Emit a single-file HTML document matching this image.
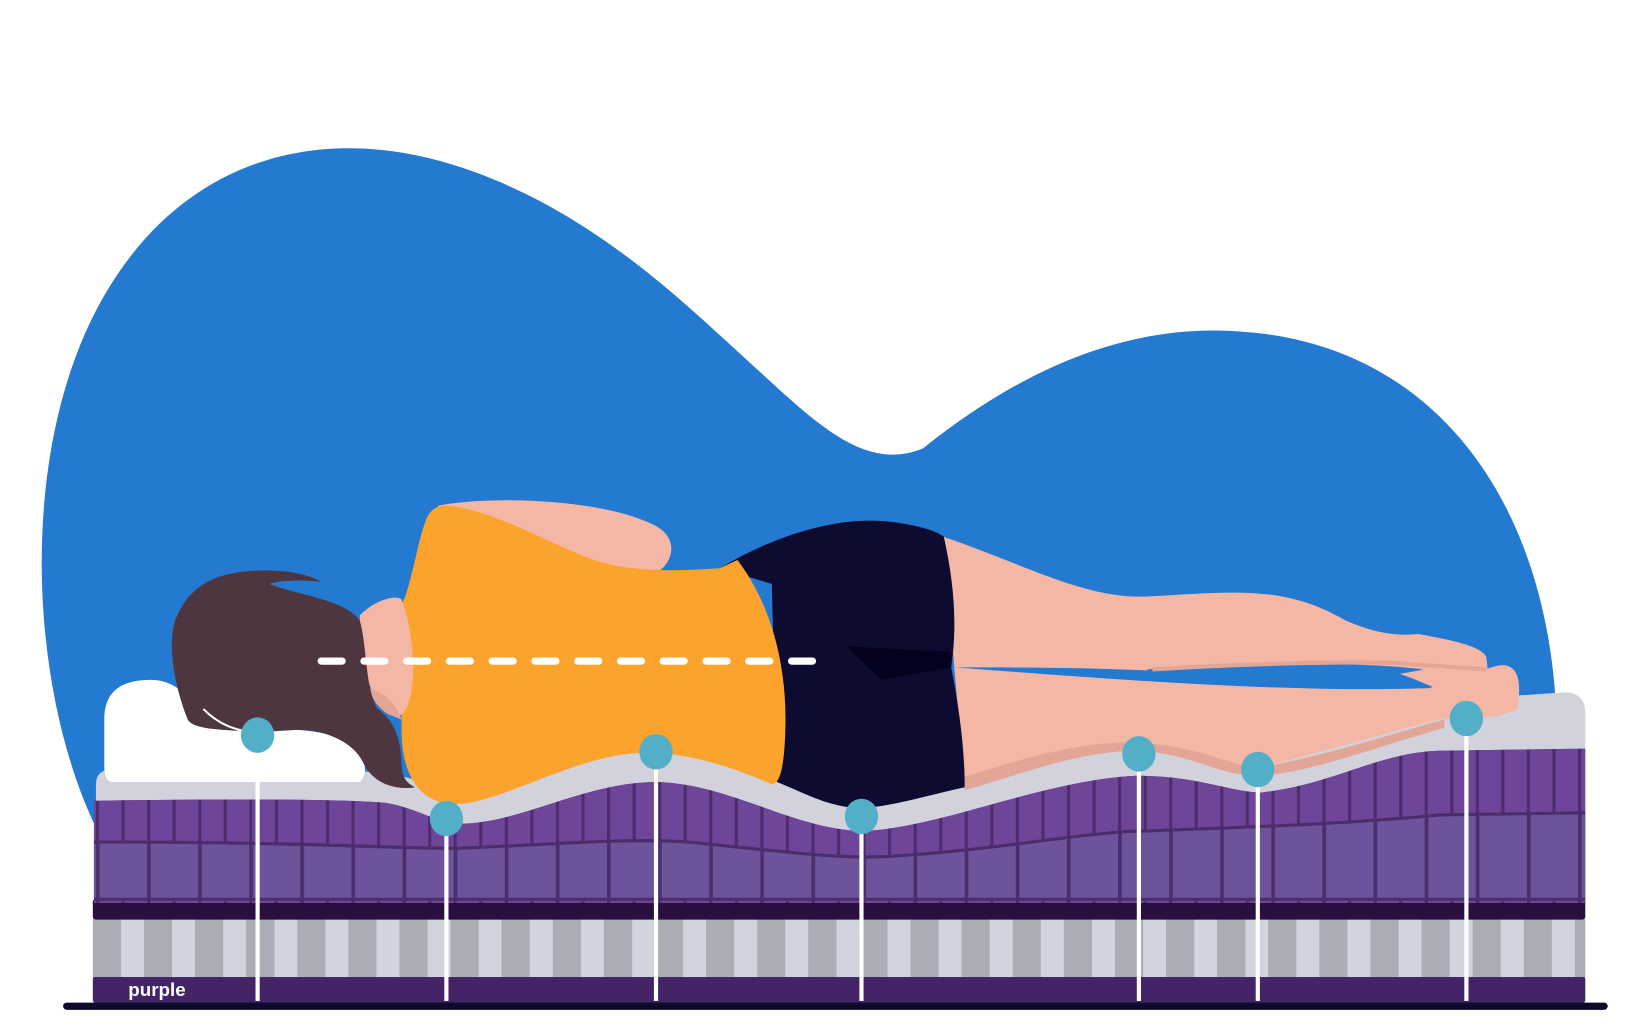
<!DOCTYPE html>
<html><head><meta charset="utf-8"><style>html,body{margin:0;padding:0;background:#fff}svg{display:block}</style></head>
<body>
<svg width="1627" height="1025" viewBox="0 0 1560 983" preserveAspectRatio="none" xmlns="http://www.w3.org/2000/svg">
<defs>
<pattern id="top" width="24.5" height="200" patternUnits="userSpaceOnUse" x="92">
<rect width="24.5" height="200" fill="#6f4599"/><rect width="3" height="200" fill="#4b2d6b"/></pattern>
<pattern id="bot" width="49" height="200" patternUnits="userSpaceOnUse" x="92">
<rect width="49" height="200" fill="#6d539b"/><rect width="3.5" height="200" fill="#4b2d6b"/></pattern>
<pattern id="spr" width="49" height="100" patternUnits="userSpaceOnUse" x="89">
<rect width="49" height="100" fill="#d1d3de"/><rect width="27" height="100" fill="#a9adb5"/></pattern>
<clipPath id="pl"><path d="M90,768 C200,766 330,766 370,770 C400,775 420,790 440,790 C500,790 560,750 630,750 C700,752 760,795 826,797 C900,795 1000,748 1090,744 C1150,744 1180,760 1210,760 C1280,752 1320,722 1380,720 L1520,718 L1520,866 L90,866 Z"/></clipPath>
</defs>
<rect width="1560" height="983" fill="#fff"/>
<!-- blob -->
<path d="M95,800 C25,660 15,420 105,275 C185,145 320,115 455,165 C565,205 645,280 705,335 C775,398 825,455 885,430 C985,350 1085,310 1190,318 C1375,330 1482,480 1492,680 L1492,760 L95,800 Z" fill="#2479d1"/>
<!-- ground & base -->
<rect x="89" y="936" width="1431" height="26" rx="3" fill="#432466"/>
<rect x="89" y="880" width="1431" height="57" fill="url(#spr)"/>
<rect x="89" y="862" width="1431" height="20" rx="3" fill="#2a1040"/>
<line x1="64" y1="965" x2="1538" y2="965" stroke="#0d0a2c" stroke-width="7" stroke-linecap="round"/>
<!-- grey comfort layer -->
<path d="M92,800 L92,752 Q92,738 108,738 L350,740 C400,742 420,760 450,760 C520,740 560,712 630,712 C700,714 740,740 830,760 C950,752 1020,705 1100,705 C1150,708 1180,728 1210,728 C1300,712 1380,676 1440,668 L1500,664 Q1520,664 1520,684 L1520,800 Z" fill="#d1d2dc"/>
<!-- purple layer -->
<g clip-path="url(#pl)">
<rect x="88" y="700" width="1436" height="170" fill="#4b2d6b"/>
<rect x="88" y="700" width="1436" height="170" fill="url(#top)"/>
<path d="M88,806 C300,806 360,812 440,812 C540,808 600,802 660,806 C760,816 800,822 850,820 C950,814 1020,800 1080,796 C1200,792 1300,788 1380,780 L1524,778 L1524,864 L88,864 Z" fill="#4b2d6b"/>
<path d="M88,809 C300,809 360,815 440,815 C540,811 600,805 660,809 C760,819 800,825 850,823 C950,817 1020,803 1080,799 C1200,795 1300,791 1380,783 L1524,781 L1524,861 L88,861 Z" fill="url(#bot)"/>
</g>
<!-- pillow -->
<path d="M108,750 Q100,750 100,735 L100,690 C100,660 120,652 145,652 C175,652 185,680 220,695 C260,702 300,695 330,710 C350,725 355,740 345,750 Z" fill="#fff"/>
<!-- legs -->
<path d="M905,515 C980,540 1040,575 1100,572 C1180,568 1230,560 1290,595 C1320,608 1340,610 1360,608 C1380,612 1420,618 1425,630 C1430,660 1420,672 1400,668 C1370,660 1340,640 1310,640 L1200,650 C1100,640 1000,640 915,640 Z" fill="#f5b7a5"/>
<path d="M915,640 C1020,648 1150,658 1250,660 C1320,662 1360,660 1370,660 L1430,640 C1460,630 1458,660 1455,680 C1440,688 1420,690 1380,690 C1340,700 1300,712 1210,736 C1160,740 1140,712 1090,712 C1030,716 980,738 925,756 Z" fill="#f5b7a5"/>
<path d="M1100,642 C1200,636 1300,634 1365,642 C1300,656 1200,660 1100,647 Z" fill="#2479d1"/>
<path d="M925,745 C980,728 1030,712 1085,712 C1150,714 1180,736 1210,736 C1280,722 1330,705 1385,690 L1385,698 C1320,716 1260,740 1210,744 C1170,746 1140,720 1085,720 C1030,722 980,742 925,758 Z" fill="#e3a595"/>
<path d="M1105,642 C1200,636 1300,634 1340,636 L1425,642" stroke="#e3a595" stroke-width="4" fill="none"/>
<!-- shorts -->
<path d="M690,545 C740,515 800,495 850,500 C880,503 900,510 905,515 C915,560 918,600 912,640 C920,680 925,720 925,755 C880,765 850,775 820,775 C790,772 770,760 745,750 L740,560 Z" fill="#0d0b30"/>
<path d="M812,620 L912,625 L912,640 L845,652 Z" fill="#030020"/>
<!-- arm -->
<path d="M420,485 C470,475 580,478 630,505 C655,520 640,545 630,548 C580,550 520,530 420,500 Z" fill="#f5b7a5"/>
<!-- torso -->
<path d="M385,580 C395,560 400,520 408,500 C412,488 420,484 430,485 C480,490 540,530 580,540 C610,548 650,548 690,545 L707,537 C740,580 755,640 753,700 C752,735 748,752 740,752 C700,735 660,722 620,722 C560,722 500,760 450,770 C400,778 385,740 385,700 Z" fill="#fca32e"/>
<!-- face / neck -->
<path d="M345,590 C360,575 380,570 385,575 C395,600 398,640 395,660 C392,680 385,690 378,685 C360,675 348,650 345,620 Z" fill="#f5b7a5"/>
<path d="M355,660 C370,665 380,675 385,690 L372,685 C362,678 356,670 355,660 Z" fill="#e3a595"/>
<!-- hair -->
<path d="M180,690 C168,660 160,620 168,595 C180,565 200,552 235,548 C270,545 295,550 308,558 C290,556 270,556 258,560 C290,572 330,575 345,595 C352,620 350,660 362,680 C378,690 385,710 385,735 C386,748 392,752 398,755 C380,758 360,752 350,735 C340,710 310,700 285,700 L250,702 C215,700 185,700 180,690 Z" fill="#4e3640"/>
<path d="M195,680 C210,695 225,700 240,702" stroke="#fff" stroke-width="2" fill="none"/>
<!-- dashed line -->
<line x1="308" y1="634" x2="797" y2="634" stroke="#fff" stroke-width="7" stroke-linecap="round" stroke-dasharray="20,21"/>
<!-- pins -->
<g stroke="#fff" stroke-width="4">
<line x1="247" y1="705" x2="247" y2="960"/><line x1="428" y1="785" x2="428" y2="960"/>
<line x1="629" y1="721" x2="629" y2="960"/><line x1="826" y1="783" x2="826" y2="960"/>
<line x1="1092" y1="723" x2="1092" y2="960"/><line x1="1206" y1="738" x2="1206" y2="960"/>
<line x1="1406" y1="689" x2="1406" y2="960"/></g>
<g fill="#53afc7">
<ellipse cx="247" cy="705" rx="16" ry="17"/><ellipse cx="428" cy="785" rx="16" ry="17"/>
<ellipse cx="629" cy="721" rx="16" ry="17"/><ellipse cx="826" cy="783" rx="16" ry="17"/>
<ellipse cx="1092" cy="723" rx="16" ry="17"/><ellipse cx="1206" cy="738" rx="16" ry="17"/>
<ellipse cx="1406" cy="689" rx="16" ry="17"/></g>
<text x="123" y="955" font-family="Liberation Sans, sans-serif" font-weight="bold" font-size="18" fill="#fff">purple</text>
</svg>
</body></html>
